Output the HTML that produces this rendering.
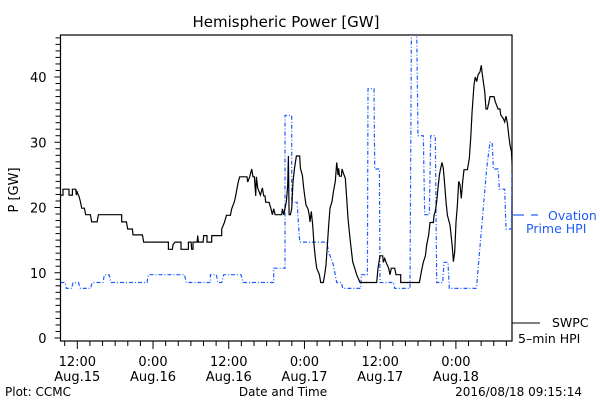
<!DOCTYPE html>
<html><head><meta charset="utf-8"><style>
body{margin:0;background:#fff;}
svg{display:block;font-family:"DejaVu Sans","Liberation Sans",sans-serif;}
</style></head><body>
<svg id="chart" width="600" height="400" viewBox="0 0 600 400">
<rect x="0" y="0" width="600" height="400" fill="#fff"/>
<text x="286" y="27" font-size="15" text-anchor="middle">Hemispheric Power [GW]</text>
<text transform="translate(18,190) rotate(-90)" font-size="13" text-anchor="middle">P [GW]</text>
<text x="283" y="396" font-size="12" text-anchor="middle">Date and Time</text>
<text x="5" y="396" font-size="12">Plot: CCMC</text>
<text x="582" y="396" font-size="12" text-anchor="end">2016/08/18 09:15:14</text>
<g>
<line x1="513" y1="215" x2="524" y2="215" stroke="#1e5cff" stroke-width="1.2"/>
<line x1="531" y1="215" x2="538" y2="215" stroke="#1e5cff" stroke-width="1.2"/>
<text x="548" y="220" font-size="12.5" fill="#1e5cff">Ovation</text>
<text x="526" y="233" font-size="12.5" fill="#1e5cff">Prime HPI</text>
</g>
<g>
<line x1="512" y1="323" x2="540" y2="323" stroke="#000" stroke-width="1"/>
<text x="552" y="327" font-size="12.5">SWPC</text>
<text x="518" y="343" font-size="12.5">5–min HPI</text>
</g>
<g id="axes"></g>
<g id="series"></g>
</svg>
<script>
// Hours since 12:00 Aug.15 / values in GW
const blackT=[-2.68,-2.26,-2.26,-1.31,-1.31,-0.78,-0.78,-0.25,-0.15,-0.04,0.17,0.27,0.49,0.70,1.12,1.33,2.07,2.28,3.13,3.34,7.04,7.04,7.78,7.99,8.73,8.83,10.31,10.52,14.43,14.43,15.07,15.17,15.49,16.44,16.44,17.60,17.60,18.03,18.13,18.34,18.34,18.98,19.08,19.19,19.93,20.03,20.56,20.56,21.30,21.30,22.89,22.89,23.31,23.63,24.26,24.47,24.89,25.10,25.32,25.53,25.74,26.90,27.01,27.32,27.64,27.85,28.06,28.27,28.38,28.59,29.01,29.33,29.54,29.75,29.86,30.39,30.70,30.92,31.13,31.34,32.39,32.50,32.71,32.92,33.13,33.35,33.45,33.56,33.77,33.98,34.19,34.40,34.72,35.25,35.35,35.67,35.88,36.03,36.25,36.56,36.77,36.88,37.09,37.30,37.51,37.73,37.94,38.36,38.57,38.99,39.20,39.42,39.63,39.84,40.05,40.37,40.58,40.89,41.11,41.32,41.42,41.53,41.85,41.95,42.27,42.48,42.69,42.90,43.11,43.33,43.64,43.96,44.28,44.80,47.45,47.66,47.97,48.40,48.50,48.71,48.93,49.35,49.56,49.77,50.30,50.51,51.25,51.25,54.21,54.53,54.84,55.16,55.37,55.69,55.90,56.43,56.53,56.74,56.95,57.17,57.38,57.59,57.80,58.01,58.22,58.43,58.65,59.07,59.39,59.60,59.81,60.02,60.23,60.44,60.65,60.86,61.08,61.29,61.82,62.13,62.34,62.56,62.87,63.08,63.29,63.51,63.82,64.03,64.14,64.35,64.56,64.77,64.99,65.20,65.41,66.04,66.25,66.68,66.99,67.10,67.52,67.73,67.94,68.16,68.37,68.58,68.79,68.95];
const blackV=[21.9,21.9,22.8,22.8,21.9,21.9,22.8,22.8,21.9,22.4,21.9,21.7,20.9,19.9,19.9,18.9,18.9,17.8,17.8,18.9,18.9,17.8,17.8,16.7,16.7,15.8,15.8,14.7,14.7,13.6,13.6,14.3,14.7,14.7,13.6,13.6,14.7,14.7,13.6,13.6,14.7,14.7,15.7,14.7,14.7,15.7,15.7,14.7,14.7,15.7,15.7,16.7,17.7,18.8,18.8,19.8,20.9,21.8,23.0,24.0,24.7,24.7,23.9,24.7,25.9,24.7,24.7,21.8,24.7,23.0,21.9,23.0,21.8,21.8,20.8,20.8,19.8,18.9,19.8,18.9,18.9,19.8,18.9,19.9,20.9,23.4,27.9,18.9,18.9,19.8,23.9,25.9,27.9,27.9,26.0,24.9,23.0,21.9,20.4,19.8,18.8,17.8,19.4,17.3,14.3,12.2,10.7,9.7,8.5,8.5,9.7,11.2,14.3,17.3,19.9,20.9,22.4,24.0,26.9,25.0,26.0,24.8,24.8,25.9,25.0,24.5,21.4,18.4,16.3,14.3,11.7,10.7,9.7,8.5,8.5,10.7,12.6,12.6,11.6,12.2,11.6,10.7,9.7,10.7,10.7,9.7,9.7,8.5,8.5,10.2,11.6,12.6,14.3,15.8,17.7,17.7,18.8,19.4,20.9,23.0,25.0,26.0,26.9,26.0,23.5,20.9,18.8,17.3,14.3,11.7,13.2,17.7,20.4,24.0,23.5,21.4,24.0,25.8,25.8,27.5,30.6,34.7,38.8,40.0,39.3,40.3,40.8,41.8,40.8,39.3,37.8,35.1,35.1,36.0,37.0,37.0,36.2,35.1,35.1,34.2,33.6,33.1,34.0,32.9,31.1,29.6,28.6,26.0];
const blueT=[-2.68,-1.94,-1.73,-0.89,-0.68,0.17,0.49,2.07,2.39,4.08,4.29,5.03,5.35,11.05,11.26,16.97,17.29,21.09,21.09,22.04,22.25,22.89,23.20,25.95,26.27,31.13,31.13,32.92,32.92,33.98,33.98,34.83,35.25,39.52,39.84,40.58,41.11,41.85,42.06,44.91,45.02,45.97,46.07,47.02,47.13,47.87,47.97,50.09,50.30,52.73,52.94,53.79,54.00,54.84,55.05,55.79,56.00,56.74,56.95,57.91,58.12,58.75,58.96,63.19,63.29,64.88,65.41,65.73,65.94,66.68,66.89,67.73,67.94,68.79,68.95];
const blueV=[8.5,8.5,7.6,7.6,8.5,8.5,7.6,7.6,8.5,8.5,9.7,9.7,8.5,8.5,9.7,9.7,8.5,8.5,9.7,9.7,8.5,8.5,9.7,9.7,8.5,8.5,10.7,10.7,34.1,34.1,20.8,20.8,14.7,14.7,13.2,11.2,8.5,8.5,7.6,7.6,9.7,9.7,38.2,38.2,25.9,25.9,8.5,8.5,7.6,7.6,47,47,31.0,31.0,18.9,18.9,31.0,31.0,8.5,8.5,11.6,11.6,7.6,7.6,8.1,26.0,30.0,30.0,25.9,25.9,22.8,22.8,16.7,16.7,28];
const yTickVals=[0,10,20,30,40];
const xTickHours=[0,12,24,36,48,60];
const xTickTop=["12:00","0:00","12:00","0:00","12:00","0:00"];
const xTickBot=["Aug.15","Aug.16","Aug.16","Aug.17","Aug.17","Aug.18"];

const L=60.5,R=512,T=35,B=341;
const xs=h=>77.3+6.31*h;
const ys=v=>338-6.525*v;
const NS="http://www.w3.org/2000/svg";
function mk(tag,attrs,parent){const e=document.createElementNS(NS,tag);for(const k in attrs)e.setAttribute(k,attrs[k]);parent.appendChild(e);return e;}
const axes=document.getElementById('axes'),series=document.getElementById('series');

const box=mk('rect',{x:L,y:T,width:R-L,height:B-T,fill:'none',stroke:'#000','stroke-width':1.2},axes);


// y minor ticks
for(let v=0;v<=46;v++){
 const t=mk('line',{x1:L-(v%10===0?6:5),x2:L,y1:ys(v),y2:ys(v),stroke:'#000','stroke-width':1},axes);
 
 
}
yTickVals.forEach(v=>{
 const t=mk('text',{x:L-14,y:ys(v)+5,'font-size':13,'text-anchor':'end'},axes);t.textContent=v;
 
 
});
// x ticks every 2h
for(let h=-2;h<=68;h+=2){
 const major=(h%12===0);
 const t=mk('line',{x1:xs(h),x2:xs(h),y1:B,y2:B+(major?8:5),stroke:'#000','stroke-width':1},axes);
 
 
}
xTickHours.forEach((h,i)=>{
 const a=mk('text',{x:xs(h),y:366,'font-size':13,'text-anchor':'middle'},axes);a.textContent=xTickTop[i];
 
 
 const b=mk('text',{x:xs(h),y:381,'font-size':13,'text-anchor':'middle'},axes);b.textContent=xTickBot[i];
 
 
});
mk('clipPath',{id:'clip'},series).appendChild(Object.assign(document.createElementNS(NS,'rect'),{}));
const cr=series.querySelector('clipPath rect');cr.setAttribute('x',L);cr.setAttribute('y',T);cr.setAttribute('width',R-L);cr.setAttribute('height',B-T);
const bp=blueT.map((t,i)=>xs(t).toFixed(1)+','+ys(blueV[i]).toFixed(1)).join(' ');
const blue=mk('polyline',{points:bp,fill:'none',stroke:'#1e5cff','stroke-width':1.2,'stroke-dasharray':'4,2,1,2','clip-path':'url(#clip)'},series);


const kp=blackT.map((t,i)=>xs(t).toFixed(1)+','+ys(blackV[i]).toFixed(1)).join(' ');
const black=mk('polyline',{points:kp,fill:'none',stroke:'#000','stroke-width':1.2,'clip-path':'url(#clip)'},series);


</script>
</body></html>
